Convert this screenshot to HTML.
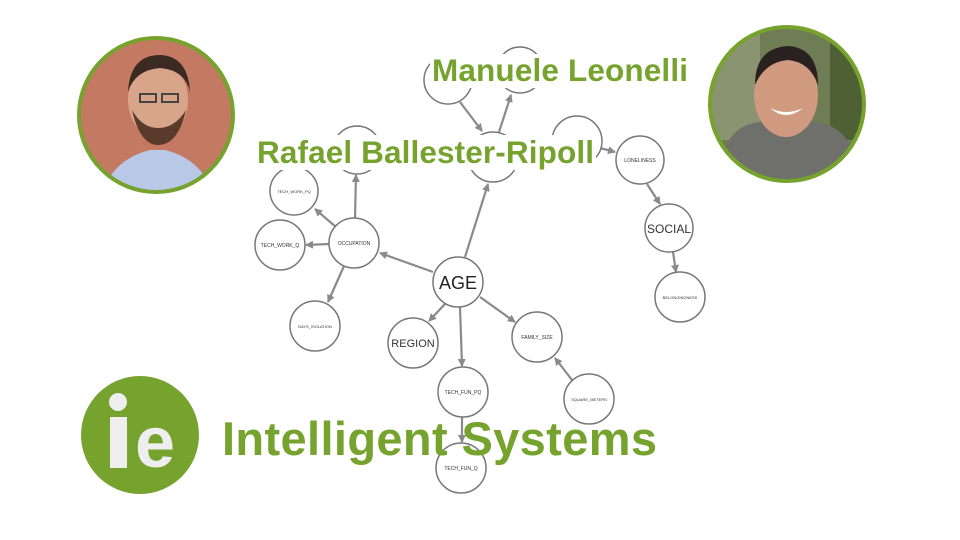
<!DOCTYPE html>
<html><head><meta charset="utf-8"><style>
html,body{margin:0;padding:0;background:#fff;}
svg{display:block;}
</style></head><body>
<svg width="960" height="540" viewBox="0 0 960 540" xmlns="http://www.w3.org/2000/svg" font-family="Liberation Sans, sans-serif">
<defs>
<marker id="a" markerWidth="8" markerHeight="8" refX="7" refY="4" orient="auto" markerUnits="userSpaceOnUse">
<path d="M0,0 L8,4 L0,8 z" fill="#8a8a8a"/>
</marker>
<clipPath id="c1"><circle cx="156" cy="115" r="77"/></clipPath>
<clipPath id="c2"><circle cx="787" cy="104" r="77"/></clipPath>
</defs>
<g stroke="#8a8a8a" stroke-width="2.2" fill="none" marker-end="url(#a)">
<line x1="460" y1="102" x2="482" y2="131"/>
<line x1="499" y1="132" x2="511" y2="95"/>
<line x1="465" y1="257" x2="488" y2="184"/>
<line x1="600" y1="148" x2="615" y2="152"/>
<line x1="647" y1="184" x2="660" y2="204"/>
<line x1="673" y1="252" x2="676" y2="272"/>
<line x1="433" y1="272" x2="380" y2="253"/>
<line x1="355" y1="218" x2="356" y2="175"/>
<line x1="336" y1="227" x2="315" y2="209"/>
<line x1="329" y1="244" x2="306" y2="245"/>
<line x1="344" y1="266" x2="328" y2="302"/>
<line x1="445" y1="304" x2="429" y2="321"/>
<line x1="460" y1="307" x2="462" y2="366"/>
<line x1="480" y1="297" x2="515" y2="322"/>
<line x1="572" y1="380" x2="555" y2="358"/>
<line x1="462" y1="417" x2="462" y2="442"/>
</g>
<g stroke="#777" stroke-width="1.5" fill="#fff">
<circle cx="448" cy="80" r="24"/>
<circle cx="520" cy="70" r="23"/>
<circle cx="493" cy="157" r="25"/>
<circle cx="577" cy="141" r="25"/>
<circle cx="640" cy="160" r="24"/>
<circle cx="669" cy="228" r="24"/>
<circle cx="680" cy="297" r="25"/>
<circle cx="357" cy="150" r="24"/>
<circle cx="294" cy="191" r="24"/>
<circle cx="280" cy="245" r="25"/>
<circle cx="354" cy="243" r="25"/>
<circle cx="458" cy="282" r="25"/>
<circle cx="315" cy="326" r="25"/>
<circle cx="413" cy="343" r="25"/>
<circle cx="463" cy="392" r="25"/>
<circle cx="537" cy="337" r="25"/>
<circle cx="589" cy="399" r="25"/>
<circle cx="461" cy="468" r="25"/>
</g>
<g fill="#333" text-anchor="middle">
<text x="640" y="162" font-size="5">LONELINESS</text>
<text x="669" y="233" font-size="12">SOCIAL</text>
<text x="680" y="299" font-size="4">BELONGINGNESS</text>
<text x="294" y="193" font-size="4">TECH_WORK_PQ</text>
<text x="280" y="247" font-size="5">TECH_WORK_Q</text>
<text x="354" y="245" font-size="5">OCCUPATION</text>
<text x="458" y="289" font-size="18" fill="#222">AGE</text>
<text x="315" y="328" font-size="4">DAYS_ISOLATION</text>
<text x="413" y="347" font-size="11">REGION</text>
<text x="463" y="394" font-size="5">TECH_FUN_PQ</text>
<text x="537" y="339" font-size="5">FAMILY_SIZE</text>
<text x="589" y="401" font-size="4">SQUARE_METERS</text>
<text x="461" y="470" font-size="5">TECH_FUN_Q</text>
</g>
<rect x="430" y="54" width="262" height="34" fill="#fff"/>
<text x="432" y="81" font-size="31.5" font-weight="bold" fill="#76a22e" textLength="256">Manuele Leonelli</text>
<rect x="255" y="135" width="341" height="35" fill="#fff"/>
<text x="257" y="163" font-size="31.5" font-weight="bold" fill="#76a22e" textLength="337">Rafael Ballester-Ripoll</text>
<!-- left photo -->
<g clip-path="url(#c1)">
<rect x="70" y="30" width="180" height="180" fill="#c47a62"/>
<path d="M100,200 Q110,160 150,150 L165,150 Q205,160 215,200 Z" fill="#b9c8e6"/>
<ellipse cx="158" cy="100" rx="30" ry="38" fill="#d9a58a"/>
<path d="M128,92 Q130,55 160,55 Q188,56 190,92 Q185,70 160,68 Q135,70 128,92Z" fill="#3a2a22"/>
<path d="M132,110 Q140,145 158,145 Q178,145 186,110 Q175,128 158,128 Q142,128 132,110Z" fill="#5a3a2a"/>
<rect x="140" y="94" width="16" height="8" fill="none" stroke="#444" stroke-width="2"/>
<rect x="162" y="94" width="16" height="8" fill="none" stroke="#444" stroke-width="2"/>
</g>
<circle cx="156" cy="115" r="77" fill="none" stroke="#76a22e" stroke-width="4"/>
<!-- right photo -->
<g clip-path="url(#c2)">
<rect x="700" y="20" width="180" height="180" fill="#6f7d55"/>
<rect x="700" y="20" width="60" height="120" fill="#8a9470"/>
<rect x="830" y="40" width="50" height="100" fill="#4f6035"/>
<path d="M715,190 Q720,125 760,122 L815,122 Q855,125 865,190Z" fill="#6f706b"/>
<ellipse cx="786" cy="95" rx="32" ry="42" fill="#cf9a80"/>
<path d="M755,85 Q755,48 788,46 Q818,48 818,85 Q810,62 788,60 Q765,62 755,85Z" fill="#2a2220"/>
<path d="M770,108 Q786,122 803,108 Q786,116 770,108Z" fill="#fff"/>
</g>
<circle cx="787" cy="104" r="77" fill="none" stroke="#76a22e" stroke-width="4"/>
<!-- logo -->
<circle cx="140" cy="435" r="59" fill="#76a22e"/>
<circle cx="118" cy="402" r="9" fill="#eee"/>
<rect x="110" y="417" width="17" height="51" fill="#eee"/>
<text x="155" y="467" font-size="72" font-weight="bold" fill="#eee" text-anchor="middle">e</text>
<text x="222" y="455" font-size="47" font-weight="bold" fill="#76a22e" textLength="435">Intelligent Systems</text>
</svg>
</body></html>
